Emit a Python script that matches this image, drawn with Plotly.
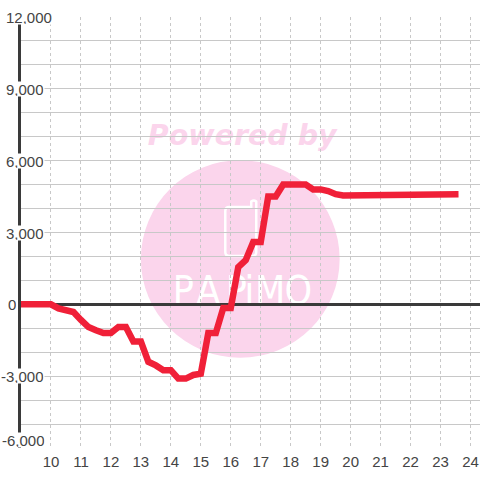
import plotly.graph_objects as go

hours = [9, 9.25, 9.5, 9.75, 10, 10.25, 10.5, 10.75, 11, 11.25, 11.5, 11.75, 12, 12.25, 12.5, 12.75, 13, 13.25, 13.5, 13.75, 14, 14.25, 14.5, 14.75, 15, 15.25, 15.5, 15.75, 16, 16.25, 16.5, 16.75, 17, 17.25, 17.5, 17.75, 18, 18.25, 18.5, 18.75, 19, 19.25, 19.5, 19.75, 20, 20.25, 20.5, 20.75, 21, 21.25, 21.5, 21.75, 22, 22.25, 22.5, 22.75, 23, 23.25, 23.5]
values = [0, 0, 0, 0, 0, -170, -230, -320, -650, -950, -1080, -1200, -1200, -950, -950, -1550, -1550, -2400, -2550, -2750, -2750, -3100, -3100, -2950, -2900, -1200, -1200, -150, -150, 1550, 1850, 2600, 2600, 4500, 4500, 5000, 5000, 5000, 5000, 4800, 4800, 4730, 4600, 4550, 4550, 4600, 4600, 4600, 4600, 4600, 4600, 4600, 4600, 4600, 4600, 4600, 4600, 4600, 4600]
x_ticks = list(range(10, 25))
y_labels = [12000, 9000, 6000, 3000, 0, -3000, -6000]

INK = "#3a3a3a"
LABEL = "#444444"
GRID = "#c8c8c8"
PINK = "#fbd5ec"
FONT = "Liberation Sans"

line_x = [hours[0] - 0.1] + hours[1:-1] + [hours[-1] + 0.1]

fig = go.Figure(go.Scatter(x=line_x, y=values, mode="lines",
                           line=dict(color="#f02038", width=6.5), cliponaxis=False,
                           hoverinfo="skip", showlegend=False))

W, H = 480, 480
L, R, T, B = 20.5, 0, 16.5, 31.5
def px(x): return (x - L) / (W - L - R)
def py(y): return 1 - (y - T) / (H - T - B)

shapes = [
    dict(type="circle", xref="paper", yref="paper", layer="below",
         x0=px(140.5), x1=px(339.5), y0=py(358), y1=py(160), fillcolor=PINK, line_width=0),
    dict(type="path", xref="paper", yref="paper", layer="below",
         path=f"M {px(229)} {py(207)} L {px(251)} {py(207)} L {px(251)} {py(201.5)} Q {px(253.5)} {py(199.5)} {px(256)} {py(201.5)} "
              f"L {px(256)} {py(252)} Q {px(256)} {py(256)} {px(252)} {py(256)} L {px(229)} {py(256)} "
              f"Q {px(225)} {py(256)} {px(225)} {py(252)} L {px(225)} {py(211)} Q {px(225)} {py(207)} {px(229)} {py(207)} Z",
         line=dict(color="white", width=2.5), fillcolor="rgba(0,0,0,0)"),
    dict(type="rect", xref="paper", yref="paper", layer="below",
         x0=px(130), x1=px(354), y0=py(151), y1=py(115), line_width=0,
         fillcolor="rgba(0,0,0,0)",
         label=dict(text="<b><i>Powered by</i></b>", textposition="middle center",
                    font=dict(family="DejaVu Sans", size=28.5, color=PINK))),
]
for ch, cx in zip("PAPiMO", [183, 208, 236, 249, 270, 298]):
    shapes.append(dict(type="rect", xref="paper", yref="paper", layer="below",
                       x0=px(cx - 15), x1=px(cx + 15), y0=py(309), y1=py(267), line_width=0,
                       fillcolor="rgba(0,0,0,0)",
                       label=dict(text=ch, textposition="middle center",
                                  font=dict(family="DejaVu Sans Condensed", size=39, color="white"))))

shifts = {12000: 32, 9000: 23.5, 6000: 23.5, 3000: 23.5, 0: -4, -3000: 23.5, -6000: 25}
annotations = [
    dict(x=9, y=v, xref="x", yref="y", text=f"{v:,}", showarrow=False, xanchor="right",
         xshift=shifts[v], yshift=8 if v == -6000 else 0, height=14,
         borderpad=0, bgcolor="white",
         font=dict(family=FONT, size=15, color=LABEL))
    for v in y_labels
]

fig.update_layout(
    width=W, height=H, autosize=False,
    margin=dict(l=L, r=R, t=T, b=B),
    paper_bgcolor="white", plot_bgcolor="white",
    shapes=shapes, annotations=annotations,
    xaxis=dict(range=[9, 9 + (W - L) / 30], tickmode="array", tickvals=x_ticks,
               ticktext=[str(t) for t in x_ticks], showgrid=True, gridcolor=GRID,
               griddash="3px,3px", gridwidth=1, ticks="", zeroline=False, showline=False,
               ticklabelstandoff=3,
               tickfont=dict(family=FONT, size=15, color=LABEL)),
    yaxis=dict(range=[-6000, 12000], dtick=1000, tick0=0, showticklabels=False, showgrid=True,
               gridcolor=GRID, gridwidth=1.3, ticks="", zeroline=True, zerolinecolor=INK,
               zerolinewidth=3, showline=True, linecolor=INK, linewidth=3),
)
fig.write_html("out.html", config=dict(displayModeBar=False),
               post_script="document.body.style.margin='0';document.documentElement.style.overflow='hidden';")
